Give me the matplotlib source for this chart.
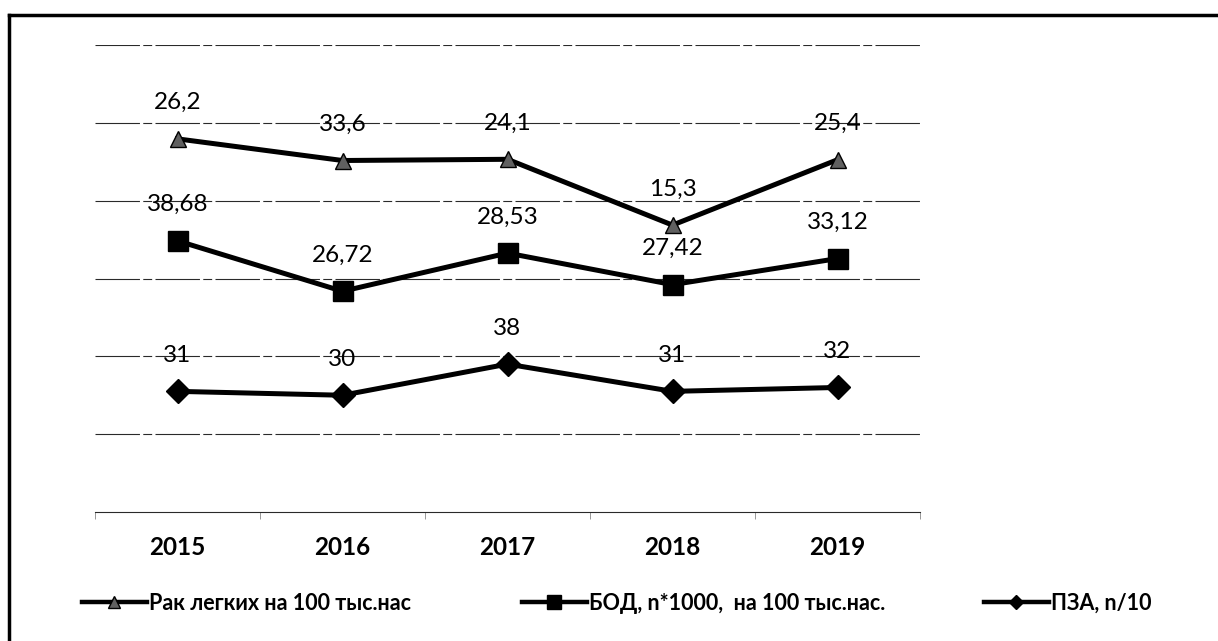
import numpy as np
import matplotlib
matplotlib.use("Agg")
import matplotlib.pyplot as plt
from matplotlib.lines import Line2D

years = ["2015", "2016", "2017", "2018", "2019"]
pza = [31, 30, 38, 31, 32]
bod = [38.68, 26.72, 28.53, 27.42, 33.12]
rak = [26.2, 33.6, 24.1, 15.3, 25.4]
pza_labels = ["31", "30", "38", "31", "32"]
bod_labels = ["38,68", "26,72", "28,53", "27,42", "33,12"]
rak_labels = ["26,2", "33,6", "24,1", "15,3", "25,4"]
legend_names = ["Рак легких на 100 тыс.нас", "БОД, n*1000,  на 100 тыс.нас.", "ПЗА, n/10"]

plt.rcParams['font.family'] = ['Lato', 'DejaVu Sans']

fig = plt.figure(figsize=(12.18, 6.41), dpi=100)
ax = fig.add_axes([95/1218, 1-512/641, (920-95)/1218, (512-45)/641])

x = np.arange(len(years))
s1 = np.array(pza)
s2 = s1 + np.array(bod)
s3 = s2 + np.array(rak)

for yv in range(20, 121, 20):
    ax.axhline(yv, color='#2a2a2a', lw=0.8, ls=(0, (40, 3, 8, 3)), zorder=0)

lw = 3.6
ax.plot(x, s1, color='black', lw=lw, marker='D', ms=12, zorder=3)
ax.plot(x, s2, color='black', lw=lw, marker='s', ms=14, zorder=3)
ax.plot(x, s3, color='black', lw=lw, marker='^', ms=11, mfc='#606060', mec='black', mew=1, zorder=3)

for vals, labs in [(s1, pza_labels), (s2, bod_labels), (s3, rak_labels)]:
    for xi, v, t in zip(x, vals, labs):
        ax.annotate(t, (xi, v), xytext=(0, 26), textcoords='offset points',
                    ha='center', va='center', fontsize=17.5, color='black', zorder=4)

ax.set_xlim(-0.5, len(years) - 0.5)
ax.set_ylim(0, 120)
ax.set_yticks([])
for sp in ['left', 'right', 'top']:
    ax.spines[sp].set_visible(False)
ax.spines['bottom'].set_color('#2a2a2a')
ax.spines['bottom'].set_linewidth(0.8)
ax.set_xticks(x)
ax.set_xticklabels(years, fontsize=17.5, fontweight='bold')
ax.tick_params(axis='x', length=0, pad=17)
ax.set_xticks(np.arange(-0.5, len(years)), minor=True)
ax.tick_params(axis='x', which='minor', length=5, color='#888888', width=0.6)

handles = [
    Line2D([], [], color='black', lw=3.2, marker='^', ms=8, mfc='#606060', mec='black'),
    Line2D([], [], color='black', lw=3.2, marker='s', ms=10),
    Line2D([], [], color='black', lw=3.2, marker='D', ms=7),
]
anchors = [82/1218, 522/1218, 984/1218]
for h, name, ax_x in zip(handles, legend_names, anchors):
    fig.legend([h], [name], loc='center left', bbox_to_anchor=(ax_x, 1-603/641),
               frameon=False, handlelength=3.0, handletextpad=0.1, borderpad=0,
               borderaxespad=0, prop={'size': 15.5, 'weight': 'bold'})

# frame (left and top edges, as in the scan)
fig.add_artist(Line2D([9/1218, 9/1218], [0, 1-15/641], transform=fig.transFigure, color='black', lw=2.5))
fig.add_artist(Line2D([9/1218, 1], [1-15/641, 1-15/641], transform=fig.transFigure, color='black', lw=2.5))

fig.savefig("out.png", dpi=100)
